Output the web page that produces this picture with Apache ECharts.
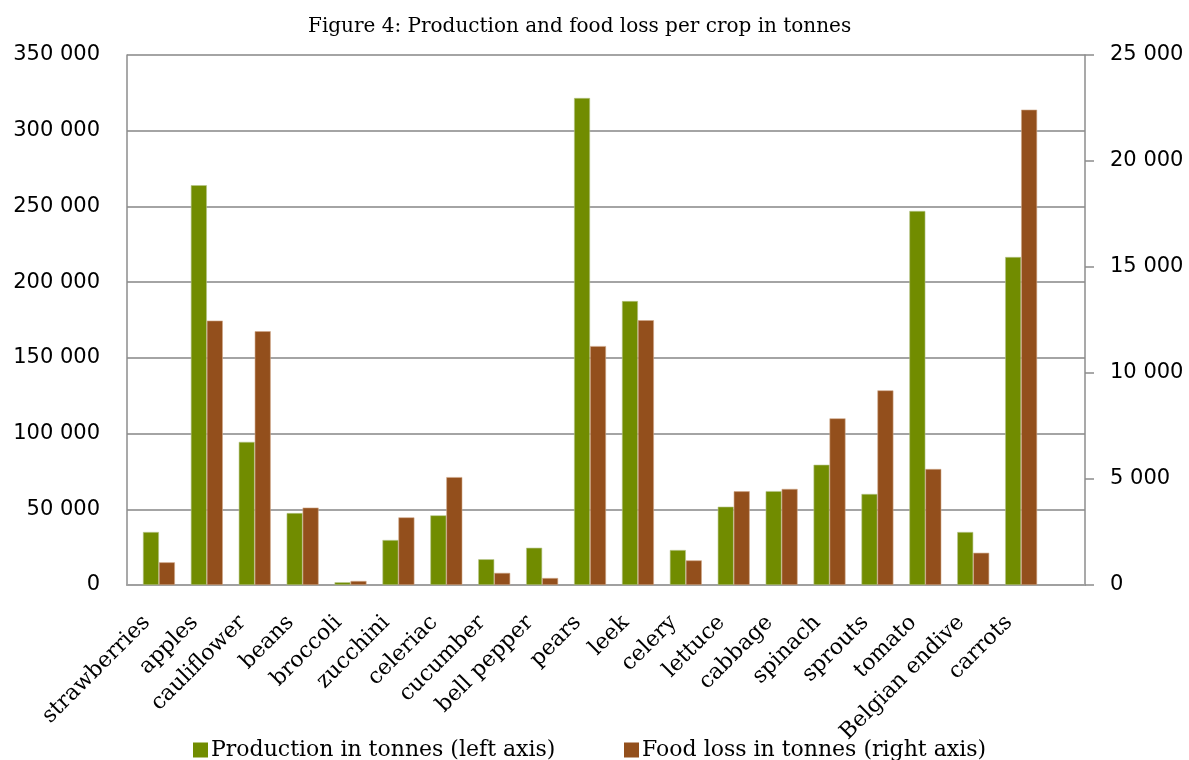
<!DOCTYPE html>
<html>
<head>
<meta charset="utf-8">
<script src="https://cdn.jsdelivr.net/npm/echarts@6/dist/echarts.min.js"></script>
<style>html,body{margin:0;padding:0;background:#fff}#c{width:1189px;height:760px}</style>
</head>
<body>
<div id="c"></div>
<script>
// 19 crops plus one empty trailing slot, as in the original chart's category axis
const categories = ['strawberries','apples','cauliflower','beans','broccoli','zucchini','celeriac','cucumber','bell pepper','pears','leek','celery','lettuce','cabbage','spinach','sprouts','tomato','Belgian endive','carrots',''];
const production = [35000,264000,94500,47500,1800,29700,46000,17000,24600,321600,187500,23100,51700,62000,79400,60100,247000,35000,216600,null];
const foodLoss = [1070,12470,11970,3650,190,3190,5090,570,330,11270,12490,1160,4420,4530,7860,9180,5470,1520,22420,null];
const emptySlot = [];
const leftTicks = {min:0,max:350000,interval:50000};
const rightTicks = {min:0,max:25000,interval:5000};

const FONT = 'DejaVu Serif';
const NUMFONT = 'DejaVu Sans';
const fmt = v => String(v).replace(/\B(?=(\d{3})+(?!\d))/g, ' ');
const chart = echarts.init(document.getElementById('c'));
chart.setOption({
  animation:false,
  backgroundColor:'#fff',
  textStyle:{fontFamily:FONT,color:'#000'},
  title:{text:'Figure 4: Production and food loss per crop in tonnes',left:303,top:12,
    textStyle:{fontFamily:FONT,fontWeight:'normal',fontSize:20,color:'#000'}},
  grid:{left:127,right:104,top:55,bottom:175,containLabel:false},
  legend:[
    {data:['Production in tonnes (left axis)'],left:188,top:734,itemWidth:15,itemHeight:15,itemGap:4,icon:'rect',
     itemStyle:{borderWidth:0},
     textStyle:{fontFamily:FONT,fontSize:22,color:'#000',padding:[0,0,0,-2]}},
    {data:['Food loss in tonnes (right axis)'],left:619,top:734,itemWidth:15,itemHeight:15,itemGap:4,icon:'rect',
     itemStyle:{borderWidth:0},
     textStyle:{fontFamily:FONT,fontSize:22,color:'#000',padding:[0,0,0,-2]}}
  ],
  xAxis:{type:'category',data:categories,
    axisLine:{lineStyle:{color:'#a0a0a0',width:2}},axisTick:{show:false},
    axisLabel:{rotate:45,fontSize:22,color:'#000',margin:30,interval:0,fontFamily:FONT,padding:[0,6,0,0]}},
  yAxis:[
    {type:'value',min:leftTicks.min,max:leftTicks.max,interval:leftTicks.interval,position:'left',
     axisLine:{show:true,lineStyle:{color:'#8c8c8c',width:1.5}},axisTick:{show:false},
     splitLine:{lineStyle:{color:'#868686',width:1.6}},
     axisLabel:{formatter:fmt,fontSize:21,color:'#000',margin:27,fontFamily:NUMFONT}},
    {type:'value',min:rightTicks.min,max:rightTicks.max,interval:rightTicks.interval,position:'right',
     axisLine:{show:true,lineStyle:{color:'#8c8c8c',width:1.5}},
     axisTick:{show:true,inside:false,length:9,lineStyle:{color:'#8c8c8c',width:1.5}},
     splitLine:{show:false},
     axisLabel:{formatter:fmt,fontSize:21,color:'#000',margin:25,fontFamily:NUMFONT}}
  ],
  series:[
    {name:'_slot',type:'bar',yAxisIndex:0,data:emptySlot,barGap:'0%',barCategoryGap:'0%',silent:true},
    {name:'Production in tonnes (left axis)',type:'bar',yAxisIndex:0,data:production,
     barGap:'0%',barCategoryGap:'0%',itemStyle:{color:'#718C00',borderColor:'#b5c58a',borderWidth:0.6}},
    {name:'Food loss in tonnes (right axis)',type:'bar',yAxisIndex:1,data:foodLoss,
     barGap:'0%',barCategoryGap:'0%',itemStyle:{color:'#934F1C',borderColor:'#d0a888',borderWidth:0.6}}
  ]
});
</script>
</body>
</html>
